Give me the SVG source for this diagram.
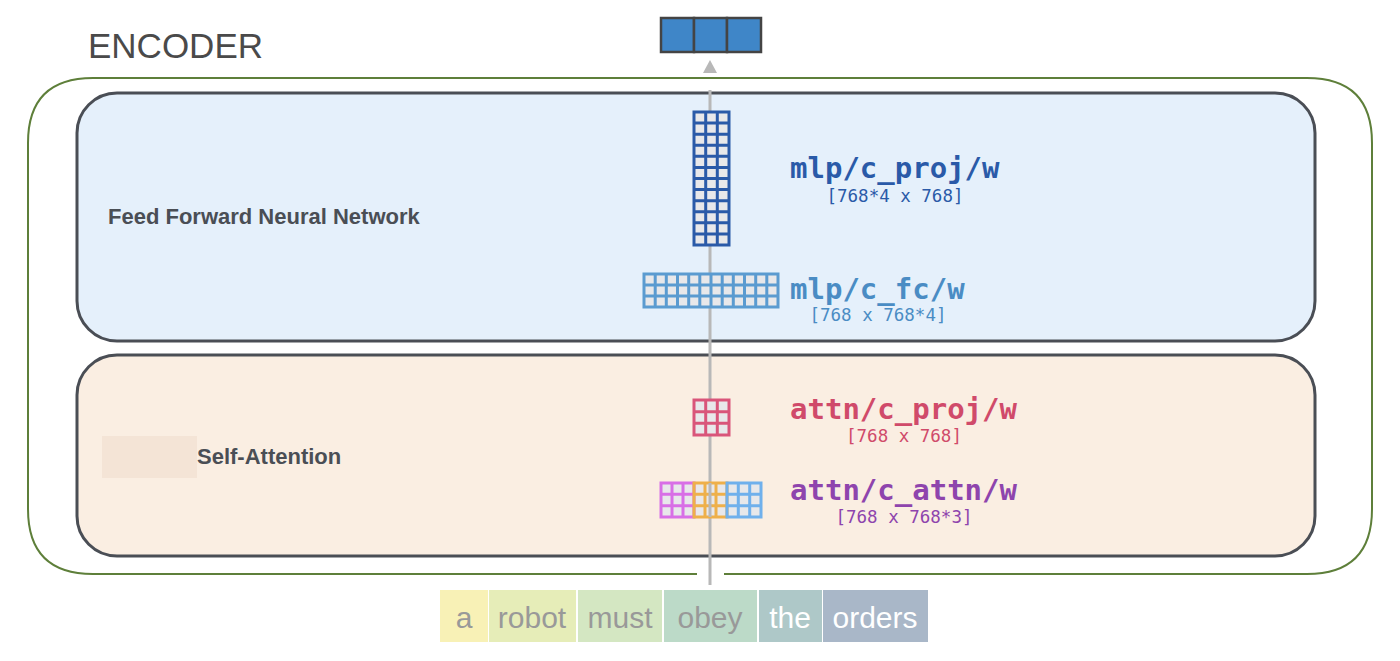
<svg xmlns="http://www.w3.org/2000/svg" width="1400" height="661" viewBox="0 0 1400 661">
<defs>
<style>
.mono{font-family:"DejaVu Sans Mono","Liberation Mono",monospace}
.name{font-size:29px;font-weight:bold}
.dim{font-size:17.5px}
.lbl{font-family:"Liberation Sans",Arial,sans-serif;font-weight:bold;font-size:22px;fill:#4a4e55}
.tok{font-family:"Liberation Sans",Arial,sans-serif;font-size:30px;text-anchor:middle}
</style>
</defs>
<rect width="1400" height="661" fill="#fff"/>
<text x="88" y="58" font-family="Liberation Sans,Arial,sans-serif" font-size="35" fill="#4a4a4a">ENCODER</text>
<g id="encoder"><path d="M697,574 H93 Q28,574 28,509 V143 Q28,78 93,78 H1307 Q1372,78 1372,143 V509 Q1372,574 1307,574 H724" fill="none" stroke="#5e7f3a" stroke-width="2"/></g>
<g id="ffnn"><rect x="77" y="93" width="1238" height="248" rx="40" fill="#e5f0fb" stroke="#4a4e55" stroke-width="3"/><text class="lbl" x="108" y="224">Feed Forward Neural Network</text></g>
<g id="selfattn"><rect x="77" y="355" width="1238" height="201" rx="40" fill="#faeee2" stroke="#4a4e55" stroke-width="3"/><rect x="102" y="436" width="95" height="42" fill="#f4e4d6"/><text class="lbl" x="197" y="464">Self-Attention</text></g>
<g id="connectors"><line x1="710" y1="585" x2="710" y2="90" stroke="#b8b8b8" stroke-width="3"/><polygon points="703,73 710,60 717,73" fill="#b8b8b8"/></g>
<g id="output" stroke="#444" stroke-width="2.5" fill="#3f86c8"><rect x="661" y="18" width="33" height="34"/><rect x="694" y="18" width="33" height="34"/><rect x="727" y="18" width="34" height="34"/></g>
<g id="mlp_cproj">
<rect x="694" y="112" width="35" height="133" fill="#e8e8ea"/>
<path d="M694,112 h35 v133 h-35 z M705.7,112 v133 M717.3,112 v133 M694,123.1 h35 M694,134.2 h35 M694,145.3 h35 M694,156.3 h35 M694,167.4 h35 M694,178.5 h35 M694,189.6 h35 M694,200.7 h35 M694,211.8 h35 M694,222.8 h35 M694,233.9 h35" fill="none" stroke="#2a5aa8" stroke-width="3"/>
<text class="mono name" x="790" y="178" fill="#2a5aa8">mlp/c_proj/w</text>
<text class="mono dim" x="895" y="202" text-anchor="middle" fill="#2a5aa8">[768*4 x 768]</text>
</g>
<g id="mlp_cfc">
<rect x="644" y="274" width="134" height="33" fill="#e8e8ea"/>
<path d="M644,274 h134 v33 h-134 z M644,285 h134 M644,296 h134 M655.2,274 v33 M666.3,274 v33 M677.5,274 v33 M688.7,274 v33 M699.8,274 v33 M711,274 v33 M722.2,274 v33 M733.3,274 v33 M744.5,274 v33 M755.7,274 v33 M766.8,274 v33" fill="none" stroke="#5b9bd0" stroke-width="3"/>
<text class="mono name" x="790" y="299" fill="#4a8cc4">mlp/c_fc/w</text>
<text class="mono dim" x="878" y="321" text-anchor="middle" fill="#4a8cc4">[768 x 768*4]</text>
</g>
<g id="attn_cproj">
<rect x="694" y="400" width="35" height="35" fill="#e8e8ea"/>
<path d="M694,400 h35 v35 h-35 z M705.7,400 v35 M717.3,400 v35 M694,411.7 h35 M694,423.3 h35" fill="none" stroke="#d9557a" stroke-width="3"/>
<text class="mono name" x="790" y="419" fill="#d04a6a">attn/c_proj/w</text>
<text class="mono dim" x="904" y="442" text-anchor="middle" fill="#d04a6a">[768 x 768]</text>
</g>
<g id="attn_cattn">
<rect x="661" y="483" width="100" height="34" fill="#e8e8ea"/>
<path d="M661,483 h33 v34 h-33 z M672,483 v34 M683,483 v34 M661,494.3 h33 M661,505.7 h33" fill="none" stroke="#d86fe6" stroke-width="3"/>
<path d="M694,483 h33 v34 h-33 z M705,483 v34 M716,483 v34 M694,494.3 h33 M694,505.7 h33" fill="none" stroke="#eeb04a" stroke-width="3"/>
<path d="M727,483 h34 v34 h-34 z M738.3,483 v34 M749.7,483 v34 M727,494.3 h34 M727,505.7 h34" fill="none" stroke="#6fb0ec" stroke-width="3"/>
<line x1="710" y1="483" x2="710" y2="517" stroke="#b8b8b8" stroke-width="3"/>
<text class="mono name" x="790" y="500" fill="#8e44ad">attn/c_attn/w</text>
<text class="mono dim" x="904" y="523" text-anchor="middle" fill="#8e44ad">[768 x 768*3]</text>
</g>
<g id="tokens">
<rect x="440" y="590" width="48" height="52" fill="#f8f1b6"/><text class="tok" x="464" y="628" fill="#999">a</text>
<rect x="489" y="590" width="87" height="52" fill="#e6edb8"/><text class="tok" x="532" y="628" fill="#999">robot</text>
<rect x="578" y="590" width="84" height="52" fill="#d4e7c2"/><text class="tok" x="620" y="628" fill="#999">must</text>
<rect x="664" y="590" width="93" height="52" fill="#bcdac8"/><text class="tok" x="710" y="628" fill="#999">obey</text>
<rect x="759" y="590" width="63" height="52" fill="#aec8c8"/><text class="tok" x="790" y="628" fill="#fff">the</text>
<rect x="823" y="590" width="105" height="52" fill="#a9b7c8"/><text class="tok" x="875" y="628" fill="#fff">orders</text>
</g>
</svg>
